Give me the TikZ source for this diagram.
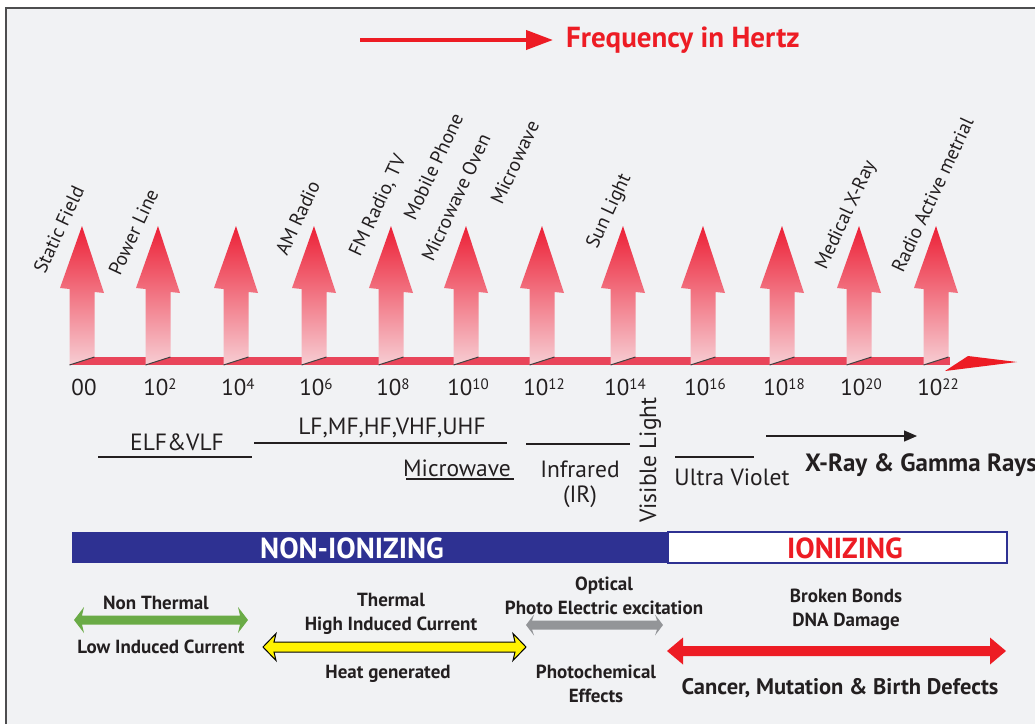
\documentclass[tikz,border=0pt]{standalone}
\usepackage{fontspec}
\setmainfont{PT Sans}
\usetikzlibrary{arrows.meta}

\definecolor{bggrey}{HTML}{F1F2F4}
\definecolor{framegrey}{HTML}{4D4D4F}
\definecolor{inkblack}{HTML}{231F20}
\definecolor{hzred}{HTML}{ED1C24}
\definecolor{bandred}{HTML}{E9455A}
\definecolor{arrowtop}{HTML}{EC2036}
\definecolor{arrowbot}{HTML}{F7CDD3}
\definecolor{nonblue}{HTML}{2E3192}
\definecolor{effgreen}{HTML}{6AAB46}
\definecolor{effyellow}{HTML}{FFF200}
\definecolor{effgrey}{HTML}{939598}

% one frequency arrow standing on the axis
\newcommand\freqarrow[1]{%
  \shade[top color=arrowtop,bottom color=arrowbot]
    (#1-12.5,365) -- (#1-12.5,289) -- (#1-22,288) -- (#1,226)
    -- (#1+22,293) -- (#1+12.5,292) -- (#1+12.5,357) -- cycle;
  \draw[black!75,line width=1pt] (#1-12.5,365) -- (#1+12.5,357);}

% double headed band arrow: x1, x2, y, half shaft, half head, head length, indent, style
\newcommand\dblarrow[8]{%
  \path[#8] (#1,#3) -- (#1+#6,#3-#5) -- (#1+#6-#7,#3-#4) -- (#2-#6+#7,#3-#4)
    -- (#2-#6,#3-#5) -- (#2,#3) -- (#2-#6,#3+#5) -- (#2-#6+#7,#3+#4)
    -- (#1+#6-#7,#3+#4) -- (#1+#6,#3+#5) -- cycle;}

% 10 to a power, as printed under the axis
\newcommand\tenpow[1]{10\raisebox{0.55ex}{\fontsize{15}{16}\selectfont#1}}

\begin{document}
\begin{tikzpicture}
  [x=1pt,y=-1pt,inkblack,
   every node/.style={inner sep=0pt,text=inkblack},
   devlabel/.style={rotate=65,anchor=base west,font=\fontsize{19.5}{21}\selectfont},
   ticklabel/.style={font=\fontsize{23}{25}\selectfont},
   bandlabel/.style={font=\fontsize{23.5}{25}\selectfont,align=center},
   bandline/.style={line width=2.4pt},
   effect/.style={font=\bfseries\fontsize{19}{24}\selectfont,align=center}]

  \useasboundingbox (0,0) rectangle (1035,724);
  \fill[white] (0,0) rectangle (1035,724);
  \fill[bggrey] (6,8) rectangle (1035,724);
  \draw[framegrey,line width=2pt] (6,724) -- (6,8) -- (1035,8);

  % title
  \node[anchor=west,text=hzred,font=\bfseries\fontsize{29}{30}\selectfont] (fqtitle) at (566,40) {Frequency in Hertz};
  \coordinate (fqstart) at (360,40);
  \draw[hzred,line width=4pt,-{Triangle[length=27pt,width=19pt]}] (fqstart) -- ([xshift=-13pt]fqtitle.west);

  % frequency axis
  \fill[bandred] (70,357) rectangle (950,365);
  \fill[hzred] (945,371) -- (968,356) -- (1017,362) -- cycle;

  \foreach \x/\e [count=\i] in {82/00,158/\tenpow{2},236/\tenpow{4},314/\tenpow{6},
      391/\tenpow{8},466/\tenpow{10},542/\tenpow{12},623/\tenpow{14},
      703/\tenpow{16},782/\tenpow{18},859/\tenpow{20},936/\tenpow{22}}
  {
    \freqarrow{\x}
    \node[ticklabel] (tick\i) at (\x+2,387) {\e};
  }

  \foreach \x/\y/\txt/\nm in {45/275/Static Field/static,120/277/Power Line/power,
      287/257/AM Radio/am,360/258/{FM Radio, TV}/fm,415/222/Mobile Phone/mobile,
      433/263/Microwave Oven/oven,502/206/Microwave/micro,597/250/Sun Light/sun,
      826/271/Medical X-Ray/xray,903/274/Radio Active metrial/radio}
    \node[devlabel] (\nm) at (\x,\y) {\txt};

  % bands of the spectrum
  \node[bandlabel] (elf) at (177,442) {ELF\&VLF};
  \draw[bandline] (98,457) -- (252,457);
  \node[bandlabel] (lfuhf) at (392,428) {LF,MF,HF,VHF,UHF};
  \draw[line width=1.5pt] (254,443) -- (507,443);
  \node[bandlabel] (mwave) at (457,468) {Microwave};
  \draw[bandline] (406,479) -- (514,479);
  \node[bandlabel] (infra) at (580,484) {Infrared\\(IR)};
  \draw[bandline] (526,444) -- (630,444);
  \node[bandlabel,rotate=90,anchor=base west] (visible) at (656,523) {Visible Light};
  \node[bandlabel] (uviolet) at (732,477) {Ultra Violet};
  \draw[bandline] (675,457) -- (754,457);
  \coordinate (xrstart) at (766,436);
  \coordinate (xrend) at (917,436);
  \draw[line width=1.3pt,-{Triangle[length=13pt,width=11pt]}] (xrstart) -- (xrend);
  \node[anchor=west,font=\bfseries\fontsize{25}{27}\selectfont] (gamma) at (805,465) {X-Ray \& Gamma Rays};

  % ionizing bars
  \node[fill=nonblue,minimum width=596pt,minimum height=31pt] (nonbar) at (370,547.5) {};
  \node[text=white,font=\bfseries\fontsize{29}{30}\selectfont] (nonion) at (352,548) {NON-IONIZING};
  \node[fill=white,draw=nonblue,line width=1.2pt,minimum width=339pt,minimum height=31pt] (ionbar) at (837.5,547.5) {};
  \node[text=hzred,font=\bfseries\fontsize{29}{30}\selectfont] (ion) at (845,548) {IONIZING};

  % effects
  \dblarrow{74}{248}{620}{4.5}{13}{10}{2}{fill=effgreen}
  \node[effect] (nonthermal) at (156,603) {Non Thermal};
  \node[effect] (lowcurrent) at (161,647) {Low Induced Current};
  \dblarrow{263}{526}{647}{5}{13.5}{13}{2}{fill=effyellow,draw=black,line width=1pt}
  \node[effect] (thermal) at (391,614) {Thermal\\High Induced Current};
  \node[effect] (heat) at (388,674) {Heat generated};
  \dblarrow{526}{663}{625}{4.5}{10.5}{8}{2}{fill=effgrey}
  \node[effect] (optical) at (604,595.5) {Optical\\Photo Electric excitation};
  \node[effect] (photochem) at (596,684) {Photochemical\\Effects};
  \dblarrow{667}{1006}{651}{5}{13.5}{16}{0}{fill=hzred}
  \node[effect] (bonds) at (846,610) {Broken Bonds\\DNA Damage};
  \node[effect,font=\bfseries\fontsize{22.5}{24}\selectfont] (cancer) at (840,688) {Cancer, Mutation \& Birth Defects};

\end{tikzpicture}
\end{document}
